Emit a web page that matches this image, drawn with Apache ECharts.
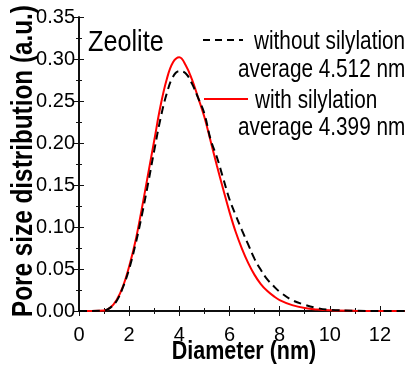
<!DOCTYPE html>
<html>
<head>
<meta charset="utf-8">
<script src="https://cdn.jsdelivr.net/npm/echarts@6/dist/echarts.min.js"></script>
<style>html,body{margin:0;padding:0;background:#fff}#c{width:405px;height:369px}</style>
</head>
<body>
<div id="c"></div>
<script>
// Data
const diameter = [0, 0.5, 1.0, 1.25, 1.5, 1.75, 2.0, 2.25, 2.5, 2.75, 3.0, 3.25, 3.5, 3.75, 4.0, 4.25, 4.5, 4.75, 5.0, 5.25, 5.5, 5.75, 6.0, 6.25, 6.5, 6.75, 7.0, 7.25, 7.5, 7.75, 8.0, 8.5, 9.0, 9.5, 10, 11, 12, 13];
const withSilylation = [0, 0, 0.0005, 0.004, 0.013, 0.029, 0.053, 0.083, 0.121, 0.162, 0.203, 0.244, 0.276, 0.296, 0.302, 0.293, 0.276, 0.254, 0.231, 0.202, 0.173, 0.145, 0.118, 0.094, 0.074, 0.057, 0.043, 0.032, 0.024, 0.018, 0.013, 0.007, 0.0035, 0.0017, 0.0008, 0.0002, 0, 0];
const withoutSilylation = [0, 0, 0.0005, 0.004, 0.012, 0.028, 0.050, 0.079, 0.113, 0.151, 0.191, 0.229, 0.259, 0.279, 0.2855, 0.283, 0.271, 0.2536, 0.235, 0.204, 0.183, 0.158, 0.133, 0.114, 0.096, 0.079, 0.062, 0.049, 0.038, 0.030, 0.023, 0.013, 0.0075, 0.0035, 0.0015, 0.0003, 0, 0];
const seriesNames = ['with silylation', 'without silylation'];
const averages = ['average 4.399 nm', 'average 4.512 nm'];
const panelLabel = 'Zeolite';
const xName = 'Diameter (nm)';
const yName = 'Pore size distribution (a.u.)';

const font = '"Liberation Sans", Arial, sans-serif';

const chart = echarts.init(document.getElementById('c'), null, {renderer: 'canvas'});
const axisLine = {show: true, lineStyle: {color: '#000', width: 1.5}};
const tickStyle = {color: '#111', width: 1};
function xAx(pos, labels) {
  return {
    type: 'value', position: pos, min: 0, max: 13, interval: 2,
    axisLine: axisLine,
    axisTick: {show: true, inside: true, length: 5, lineStyle: tickStyle},
    minorTick: {show: true, splitNumber: 2, length: 3, lineStyle: tickStyle},
    axisLabel: {show: labels, showMaxLabel: false, margin: 14, fontFamily: font, fontSize: 20, color: '#000'},
    splitLine: {show: false}
  };
}
function yAx(pos, labels) {
  return {
    type: 'value', position: pos, min: 0, max: 0.35, interval: 0.05,
    axisLine: axisLine,
    axisTick: {show: true, inside: true, length: 5, lineStyle: tickStyle},
    minorTick: {show: true, splitNumber: 2, length: 3, lineStyle: tickStyle},
    axisLabel: {show: labels, margin: 4, fontFamily: font, fontSize: 20, color: '#000',
      formatter: v => v.toFixed(2)},
    splitLine: {show: false}
  };
}
function txt(text, x, y, size, sx) {
  return {type: 'text', x: x, y: y, scaleX: sx,
    style: {text: text, fontFamily: font, fontSize: size, fill: '#000', verticalAlign: 'middle', align: 'left'}};
}
chart.setOption({
  animation: false,
  grid: {left: 79, top: 17, right: 0, bottom: 58, containLabel: false, outerBoundsMode: 'none'},
  xAxis: [xAx('bottom', true), xAx('top', false)],
  yAxis: [yAx('left', true), yAx('right', false)],
  series: [
    {name: seriesNames[0], type: 'line', xAxisIndex: 0, yAxisIndex: 0, smooth: 0.4, symbol: 'none',
      data: diameter.map((d, i) => [d, withSilylation[i]]),
      lineStyle: {color: '#ff0000', width: 2}},
    {name: seriesNames[1], type: 'line', xAxisIndex: 0, yAxisIndex: 0, smooth: 0.4, symbol: 'none',
      data: diameter.map((d, i) => [d, withoutSilylation[i]]),
      lineStyle: {color: '#000', width: 2, type: [8, 5]}}
  ],
  graphic: [
    txt(panelLabel, 88, 43, 29, 0.87),
    {type: 'line', shape: {x1: 203, y1: 40, x2: 243, y2: 40}, style: {stroke: '#000', lineWidth: 2, lineDash: [7, 5]}},
    txt(seriesNames[1], 254, 42, 25, 0.83),
    txt(averages[1], 238, 70, 25, 0.83),
    {type: 'line', shape: {x1: 204, y1: 99, x2: 248, y2: 99}, style: {stroke: '#ff0000', lineWidth: 2}},
    txt(seriesNames[0], 255, 101, 25, 0.83),
    txt(averages[0], 238, 128, 25, 0.83),
    {type: 'text', x: 244, y: 352, scaleX: 0.86,
      style: {text: xName, fontFamily: font, fontWeight: 'bold', fontSize: 25, fill: '#000', align: 'center', verticalAlign: 'middle'}},
    {type: 'text', x: 24, y: 161, rotation: Math.PI / 2, scaleX: 0.81,
      style: {text: yName, fontFamily: font, fontWeight: 'bold', fontSize: 30, fill: '#000', align: 'center', verticalAlign: 'middle'}}
  ]
});
</script>
</body>
</html>
